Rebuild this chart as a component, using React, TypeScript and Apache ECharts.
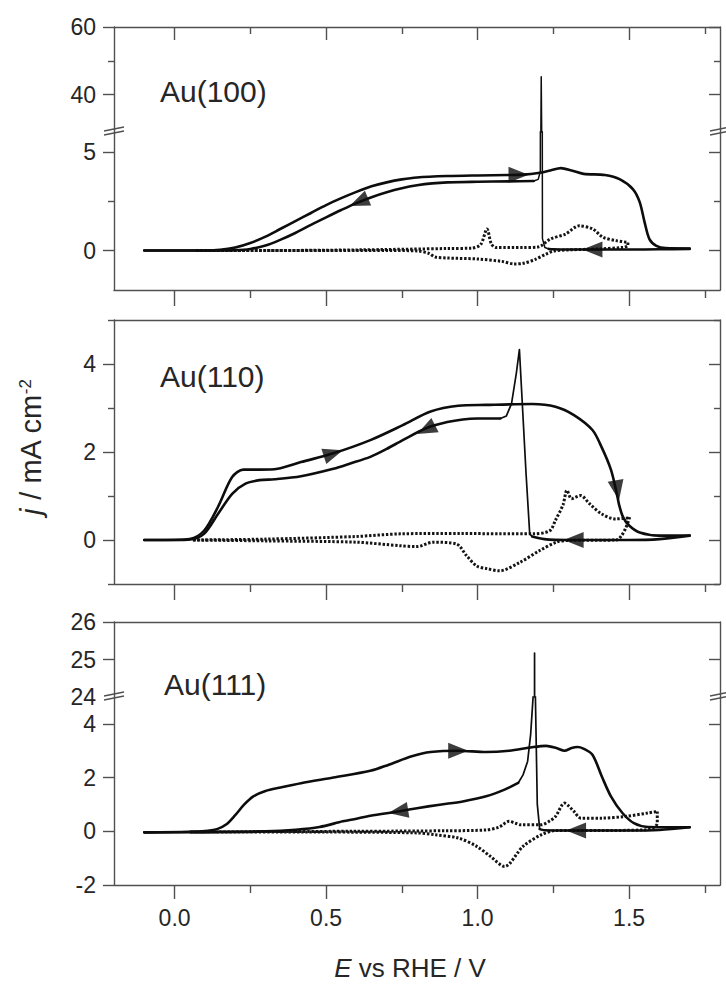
import React, { useEffect, useRef } from "react";
import * as echarts from "echarts";

// ---------------- tick values ----------------
const xMajorTicks = [0, 0.5, 1.0, 1.5];
const xMinorTicks = [0.25, 0.75, 1.25, 1.75];
const p1UpperTicks = [40, 60];
const p1UpperMinor = [50];
const p1LowerTicks = [0, 5];
const p1LowerMinor = [2.5];
const p2Ticks = [0, 2, 4];
const p2Minor = [-1, 1, 3, 5];
const p3UpperTicks = [25, 26];
const p3UpperLabels = [24, 25, 26];
const p3LowerTicks = [-2, 0, 2, 4];
const p3LowerRightTicks = [0, 2, 4];

const panelNames = ["Au(100)", "Au(110)", "Au(111)"];

// ---------------- Au(100) ----------------
const au100Forward = [
  [-0.1, 0], [0.1, 0], [0.15, 0.03], [0.2, 0.15], [0.25, 0.38], [0.3, 0.7], [0.35, 1.1],
  [0.4, 1.5], [0.45, 1.9], [0.5, 2.3], [0.55, 2.65], [0.6, 2.97], [0.65, 3.25], [0.7, 3.45],
  [0.75, 3.6], [0.8, 3.7], [0.9, 3.77], [1.0, 3.8], [1.1, 3.82], [1.15, 3.84], [1.2, 3.92],
  [1.24, 4.05], [1.275, 4.17], [1.31, 4.05], [1.35, 3.88], [1.42, 3.82], [1.47, 3.6],
  [1.513, 3.1], [1.535, 2.45], [1.551, 1.44], [1.567, 0.58], [1.59, 0.24], [1.62, 0.12], [1.7, 0.1],
];
const au100BackLow = [
  [1.7, 0.08], [1.6, 0.06], [1.5, 0.05], [1.4, 0.05], [1.3, 0.05], [1.25, 0.06], [1.235, 0.08],
];
const au100Spike = [
  [1.235, 0.08], [1.222, 0.15], [1.214, 0.6], [1.21, 45.3], [1.207, 4.0], [1.2, 3.6], [1.185, 3.52],
];
const au100BackHigh = [
  [1.185, 3.52], [1.1, 3.5], [1.0, 3.48], [0.9, 3.45], [0.85, 3.4], [0.8, 3.3], [0.75, 3.15],
  [0.7, 2.95], [0.65, 2.7], [0.6, 2.4], [0.55, 2.05], [0.5, 1.68], [0.45, 1.3], [0.4, 0.9],
  [0.35, 0.55], [0.3, 0.25], [0.25, 0.08], [0.2, 0.02], [0.1, 0], [-0.1, 0],
];
const au100BlankAnodic = [
  [0.07, 0], [0.3, 0.0], [0.6, 0.03], [0.9, 0.1], [0.98, 0.12], [1.01, 0.3], [1.031, 1.09],
  [1.045, 0.35], [1.06, 0.15], [1.15, 0.15], [1.2, 0.18], [1.24, 0.58], [1.29, 0.83],
  [1.335, 1.25], [1.38, 1.09], [1.414, 0.67], [1.458, 0.5], [1.496, 0.41],
];
const au100BlankCathodic = [
  [1.496, 0.41], [1.496, 0.25], [1.48, 0.16], [1.4, 0.08], [1.3, 0.03], [1.25, -0.03],
  [1.226, -0.18], [1.19, -0.45], [1.15, -0.65], [1.12, -0.68], [1.08, -0.55], [1.0, -0.43],
  [0.9, -0.38], [0.86, -0.33], [0.84, -0.15], [0.8, -0.02], [0.7, 0], [0.07, 0],
];
const au100Arrows = [[1.135, 3.83, -90], [0.608, 2.45, 113], [1.379, 0.05, 90]];

// ---------------- Au(110) ----------------
const au110Forward = [
  [-0.1, 0], [0.0, 0], [0.05, 0.02], [0.097, 0.21], [0.143, 0.75], [0.19, 1.43], [0.227, 1.6],
  [0.28, 1.6], [0.34, 1.62], [0.417, 1.77], [0.524, 1.97], [0.646, 2.27], [0.753, 2.61],
  [0.845, 2.92], [0.936, 3.05], [1.028, 3.07], [1.18, 3.09], [1.257, 3.03], [1.318, 2.84],
  [1.379, 2.5], [1.41, 2.1], [1.44, 1.6], [1.458, 1.1], [1.467, 0.8], [1.48, 0.52],
  [1.5, 0.33], [1.535, 0.17], [1.6, 0.1], [1.7, 0.1],
];
const au110BackLow = [
  [1.7, 0.1], [1.6, 0.02], [1.5, 0.0], [1.4, 0.0], [1.3, 0.0], [1.22, 0.02], [1.18, 0.08],
];
const au110Spike = [
  [1.18, 0.08], [1.172, 0.14], [1.16, 1.5], [1.138, 4.33], [1.128, 3.8], [1.112, 3.1],
  [1.095, 2.82], [1.075, 2.76],
];
const au110BackHigh = [
  [1.075, 2.76], [1.0, 2.76], [0.951, 2.74], [0.9, 2.68], [0.83, 2.54], [0.753, 2.27],
  [0.7, 2.07], [0.646, 1.89], [0.58, 1.74], [0.524, 1.62], [0.417, 1.45], [0.33, 1.38],
  [0.28, 1.36], [0.234, 1.28], [0.19, 1.05], [0.143, 0.59], [0.097, 0.14], [0.05, 0.01], [-0.1, 0],
];
const au110BlankAnodic = [
  [0.06, 0], [0.3, 0.02], [0.6, 0.08], [0.744, 0.14], [0.95, 0.15], [1.073, 0.14], [1.183, 0.14],
  [1.238, 0.21], [1.257, 0.45], [1.282, 0.8], [1.295, 1.13], [1.31, 0.94], [1.34, 1.01],
  [1.37, 0.82], [1.41, 0.59], [1.455, 0.48], [1.493, 0.5], [1.502, 0.52],
];
const au110BlankCathodic = [
  [1.502, 0.52], [1.49, 0.29], [1.475, 0.1], [1.458, 0.0], [1.3, -0.01], [1.26, -0.05],
  [1.205, -0.24], [1.139, -0.51], [1.073, -0.7], [1.03, -0.65], [0.997, -0.59], [0.964, -0.36],
  [0.93, -0.09], [0.853, -0.05], [0.8, -0.15], [0.744, -0.13], [0.6, -0.05], [0.3, -0.02], [0.06, 0],
];
const au110Arrows = [[0.524, 1.97, -72], [0.83, 2.51, 117], [1.461, 1.13, 190], [1.317, 0.0, 90]];

// ---------------- Au(111) ----------------
const au111Forward = [
  [-0.1, -0.04], [0.05, -0.02], [0.11, 0.02], [0.14, 0.08], [0.17, 0.25], [0.2, 0.6],
  [0.23, 1.0], [0.26, 1.3], [0.3, 1.5], [0.35, 1.63], [0.417, 1.79], [0.524, 2.0],
  [0.646, 2.25], [0.707, 2.48], [0.783, 2.79], [0.845, 2.95], [0.936, 3.0], [1.028, 2.95],
  [1.104, 3.0], [1.18, 3.13], [1.226, 3.18], [1.26, 3.1], [1.287, 3.0], [1.31, 3.1],
  [1.33, 3.14], [1.349, 3.08], [1.379, 2.85], [1.41, 2.04], [1.44, 1.3], [1.478, 0.68],
  [1.516, 0.3], [1.562, 0.16], [1.7, 0.15],
];
const au111BackLow = [
  [1.7, 0.15], [1.6, 0.05], [1.5, 0.03], [1.4, 0.03], [1.3, 0.03], [1.22, 0.04], [1.205, 0.08],
];
const au111Spike = [
  [1.205, 0.08], [1.197, 1.0], [1.19, 5.5], [1.188, 25.17], [1.186, 5.5], [1.182, 4.8],
  [1.175, 3.6], [1.165, 2.6], [1.15, 2.1], [1.134, 1.8],
];
const au111BackHigh = [
  [1.134, 1.8], [1.089, 1.55], [1.028, 1.3], [0.951, 1.11], [0.875, 0.99], [0.8, 0.86],
  [0.738, 0.74], [0.646, 0.58], [0.6, 0.47], [0.555, 0.37], [0.478, 0.16], [0.4, 0.06],
  [0.3, 0.0], [0.1, -0.03], [-0.1, -0.04],
];
const au111BlankAnodic = [
  [0.05, -0.03], [0.3, -0.01], [0.6, 0.0], [0.9, 0.02], [1.028, 0.05], [1.07, 0.15],
  [1.104, 0.37], [1.125, 0.3], [1.142, 0.24], [1.21, 0.24], [1.24, 0.4], [1.257, 0.55],
  [1.287, 1.05], [1.3, 0.95], [1.318, 0.74], [1.341, 0.49], [1.41, 0.49], [1.486, 0.55],
  [1.562, 0.68], [1.593, 0.74],
];
const au111BlankCathodic = [
  [1.593, 0.74], [1.593, 0.3], [1.575, 0.1], [1.55, 0.05], [1.4, 0.03], [1.26, 0.03],
  [1.21, -0.13], [1.15, -0.56], [1.089, -1.31], [1.043, -0.94], [0.997, -0.56], [0.936, -0.25],
  [0.86, -0.13], [0.8, -0.06], [0.5, -0.03], [0.05, -0.03],
];
const au111Arrows = [[0.936, 3.0, -90], [0.738, 0.74, 99], [1.325, 0.03, 90]];

// ---------------- styling / layout ----------------
const FONT = "'Liberation Sans', Arial, Helvetica, sans-serif";
const AXIS_COLOR = "#505050";
const TEXT_COLOR = "#262626";
const CURVE_COLOR = "#0d0d0d";
const LEFT = 114;
const RIGHT = 720;
const W = 726;
const H = 984;
const TICK_FONT = 23;

const grids = [
  { top: 27, height: 105 },  // Au(100) upper (break)
  { top: 132, height: 158 }, // Au(100) lower
  { top: 320, height: 264 }, // Au(110)
  { top: 622, height: 75 },  // Au(111) upper (break)
  { top: 697, height: 188 }, // Au(111) lower
];

const lineStyleAxis = { color: AXIS_COLOR, width: 1.4 };

function xAx(grid: number, position: string, opts: any) {
  return {
    type: "value",
    gridIndex: grid,
    position,
    min: -0.2,
    max: 1.8,
    axisLine: { show: !!opts.line, onZero: false, lineStyle: lineStyleAxis },
    axisTick: opts.ticks
      ? { show: true, inside: !!opts.inside, length: opts.len, customValues: opts.ticks, lineStyle: lineStyleAxis }
      : { show: false },
    axisLabel: opts.labels
      ? {
          show: true,
          customValues: opts.labels,
          formatter: (v: number) => v.toFixed(1),
          fontSize: TICK_FONT,
          fontFamily: FONT,
          color: TEXT_COLOR,
          margin: 21,
        }
      : { show: false },
    splitLine: { show: false },
  };
}

function yAx(grid: number, position: string, min: number, max: number, opts: any) {
  return {
    type: "value",
    gridIndex: grid,
    position,
    min,
    max,
    axisLine: { show: !!opts.line, onZero: false, lineStyle: lineStyleAxis },
    axisTick: opts.ticks
      ? { show: true, inside: !!opts.inside, length: opts.len, customValues: opts.ticks, lineStyle: lineStyleAxis }
      : { show: false },
    axisLabel: opts.labels
      ? {
          show: true,
          customValues: opts.labels,
          formatter: (v: number) => String(v),
          fontSize: TICK_FONT,
          fontFamily: FONT,
          color: TEXT_COLOR,
          margin: 18,
        }
      : { show: false },
    splitLine: { show: false },
  };
}

function solid(data: number[][], xi: number, yi: number, width = 2.6, smooth: number | boolean = 0.3) {
  return {
    type: "line",
    data,
    xAxisIndex: xi,
    yAxisIndex: yi,
    showSymbol: false,
    symbol: "none",
    smooth,
    clip: true,
    silent: true,
    z: 4,
    lineStyle: { color: CURVE_COLOR, width, cap: "round", join: "round" },
  };
}

function dotted(data: number[][], xi: number, yi: number) {
  return {
    type: "line",
    data,
    xAxisIndex: xi,
    yAxisIndex: yi,
    showSymbol: false,
    symbol: "none",
    smooth: 0.3,
    clip: true,
    silent: true,
    z: 3,
    lineStyle: { color: "#141414", width: 3, type: [2.4, 1.8], cap: "butt" },
  };
}

function arrows(list: number[][], xi: number, yi: number) {
  return {
    type: "scatter",
    xAxisIndex: xi,
    yAxisIndex: yi,
    silent: true,
    z: 6,
    symbol: "triangle",
    symbolSize: [16, 20],
    itemStyle: { color: CURVE_COLOR },
    data: list.map((a) => ({ value: [a[0], a[1]], symbolRotate: a[2] })),
  };
}

function buildOption() {
  const xAxis = [
    xAx(0, "top", { line: true, ticks: xMajorTicks, len: 13, inside: true }), // 0
    xAx(0, "top", { ticks: xMinorTicks, len: 7, inside: true }), // 1
    xAx(1, "bottom", { line: true, ticks: xMajorTicks, len: 16 }), // 2
    xAx(1, "bottom", { ticks: xMinorTicks, len: 8 }), // 3
    xAx(2, "top", { line: true }), // 4
    xAx(2, "bottom", { line: true, ticks: xMajorTicks, len: 16 }), // 5
    xAx(2, "bottom", { ticks: xMinorTicks, len: 8 }), // 6
    xAx(3, "top", { line: true }), // 7
    xAx(4, "bottom", { line: true, ticks: xMajorTicks, len: 14, labels: xMajorTicks }), // 8
    xAx(4, "bottom", { ticks: xMinorTicks, len: 8 }), // 9
  ];
  const yAxis = [
    yAx(0, "left", 29, 60, { line: true, ticks: p1UpperTicks, len: 11, labels: p1UpperTicks }), // 0
    yAx(0, "left", 29, 60, { ticks: p1UpperMinor, len: 6 }), // 1
    yAx(0, "right", 29, 60, { line: true, ticks: p1UpperTicks, len: 11, inside: true }), // 2
    yAx(0, "right", 29, 60, { ticks: p1UpperMinor, len: 6, inside: true }), // 3
    yAx(1, "left", -2, 6, { line: true, ticks: p1LowerTicks, len: 11, labels: p1LowerTicks }), // 4
    yAx(1, "left", -2, 6, { ticks: p1LowerMinor, len: 6 }), // 5
    yAx(1, "right", -2, 6, { line: true, ticks: p1LowerTicks, len: 11, inside: true }), // 6
    yAx(1, "right", -2, 6, { ticks: p1LowerMinor, len: 6, inside: true }), // 7
    yAx(2, "left", -1, 5, { line: true, ticks: p2Ticks, len: 11, labels: p2Ticks }), // 8
    yAx(2, "left", -1, 5, { ticks: p2Minor, len: 6 }), // 9
    yAx(2, "right", -1, 5, { line: true, ticks: p2Ticks, len: 11, inside: true }), // 10
    yAx(2, "right", -1, 5, { ticks: p2Minor, len: 6, inside: true }), // 11
    yAx(3, "left", 24, 26, { line: true, ticks: p3UpperTicks, len: 11, labels: p3UpperLabels }), // 12
    yAx(3, "right", 24, 26, { line: true, ticks: [25], len: 11, inside: true }), // 13
    yAx(4, "left", -2, 5, { line: true, ticks: p3LowerTicks, len: 11, labels: p3LowerTicks }), // 14
    yAx(4, "right", -2, 5, { line: true, ticks: p3LowerRightTicks, len: 11, inside: true }), // 15
  ];

  const series: any[] = [
    // Au(100)
    dotted(au100BlankAnodic, 2, 4),
    dotted(au100BlankCathodic, 2, 4),
    solid(au100Forward, 2, 4),
    solid(au100BackLow, 2, 4),
    solid(au100Spike, 2, 4, 1.5, false),
    solid(au100Spike, 0, 0, 1.5, false),
    solid(au100BackHigh, 2, 4),
    arrows(au100Arrows, 2, 4),
    // Au(110)
    dotted(au110BlankAnodic, 5, 8),
    dotted(au110BlankCathodic, 5, 8),
    solid(au110Forward, 5, 8),
    solid(au110BackLow, 5, 8),
    solid(au110Spike, 5, 8, 1.7, false),
    solid(au110BackHigh, 5, 8),
    arrows(au110Arrows, 5, 8),
    // Au(111)
    dotted(au111BlankAnodic, 8, 14),
    dotted(au111BlankCathodic, 8, 14),
    solid(au111Forward, 8, 14),
    solid(au111BackLow, 8, 14),
    solid(au111Spike, 8, 14, 1.7, false),
    solid(au111Spike, 7, 12, 1.7, false),
    solid(au111BackHigh, 8, 14),
    arrows(au111Arrows, 8, 14),
  ];

  const breakYs = [grids[1].top, grids[4].top];
  const breakMarks: any[] = [];
  breakYs.forEach((y) => {
    [LEFT, RIGHT].forEach((x) => {
      breakMarks.push({
        type: "line",
        silent: true,
        shape: { x1: x - 10, y1: y - 1, x2: x + 10, y2: y - 5 },
        style: { stroke: AXIS_COLOR, lineWidth: 1.4 },
      });
      breakMarks.push({
        type: "line",
        silent: true,
        shape: { x1: x - 10, y1: y + 3, x2: x + 10, y2: y - 1 },
        style: { stroke: AXIS_COLOR, lineWidth: 1.4 },
      });
    });
  });

  const labelYs = [91, 376, 684];
  const labelXs = [160, 160, 164];
  const panelLabels = panelNames.map((name, i) => ({
    type: "text",
    silent: true,
    x: labelXs[i],
    y: labelYs[i],
    style: {
      text: name,
      fontSize: 30,
      fontFamily: FONT,
      fill: TEXT_COLOR,
      align: "left",
      verticalAlign: "middle",
    },
  }));

  const titles = [
    {
      type: "text",
      silent: true,
      x: 410,
      y: 968,
      style: {
        text: "{i|E} vs RHE / V",
        fontSize: 26,
        fontFamily: FONT,
        fill: TEXT_COLOR,
        align: "center",
        verticalAlign: "middle",
        rich: {
          i: { fontStyle: "italic", fontSize: 26, fontFamily: FONT, fill: TEXT_COLOR },
        },
      },
    },
    {
      type: "text",
      silent: true,
      x: 31,
      y: 447,
      rotation: Math.PI / 2,
      style: {
        text: "{i|j} / mA cm{s|-2}",
        fontSize: 29,
        fontFamily: FONT,
        fill: TEXT_COLOR,
        align: "center",
        verticalAlign: "middle",
        rich: {
          i: { fontStyle: "italic", fontSize: 29, fontFamily: FONT, fill: TEXT_COLOR },
          s: { fontSize: 17, fontFamily: FONT, fill: TEXT_COLOR, verticalAlign: "top", padding: [0, 0, 11, 0] },
        },
      },
    },
  ];

  return {
    animation: false,
    backgroundColor: "#ffffff",
    grid: grids.map((g) => ({
      left: LEFT,
      width: RIGHT - LEFT,
      top: g.top,
      height: g.height,
      containLabel: false,
      outerBoundsMode: "none",
    })),
    xAxis,
    yAxis,
    series,
    graphic: [...breakMarks, ...panelLabels, ...titles],
  };
}

export default function App() {
  const ref = useRef<HTMLDivElement>(null);
  useEffect(() => {
    if (!ref.current) return;
    const chart = echarts.init(ref.current, undefined, { renderer: "svg" });
    chart.setOption(buildOption() as any);
    return () => chart.dispose();
  }, []);
  return (
    <div
      ref={ref}
      style={{ position: "absolute", left: 0, top: 0, width: W, height: H, background: "#fff" }}
    />
  );
}
